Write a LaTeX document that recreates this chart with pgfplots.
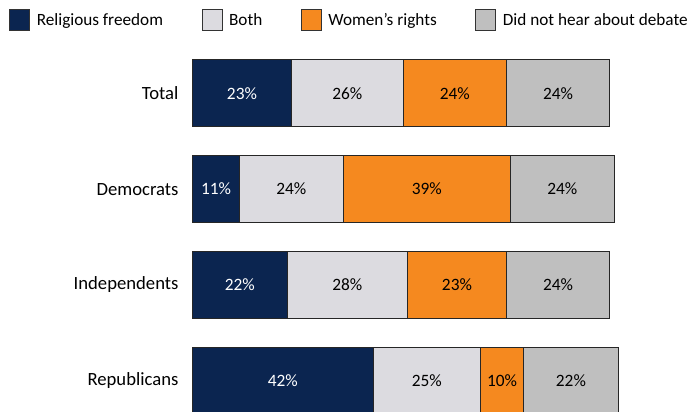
\documentclass[border=0pt]{standalone}
\usepackage{fontspec}
\setmainfont{Carlito}
\usepackage{pgfplots}
\pgfplotsset{compat=1.18}
\definecolor{cNavy}{HTML}{0B2550}
\definecolor{cLight}{HTML}{DCDBE0}
\definecolor{cOrange}{HTML}{F5891F}
\definecolor{cGray}{HTML}{BFBFBF}
\begin{document}
\begin{tikzpicture}
\begin{axis}[
  at={(144.375pt,-34.05pt)}, anchor=north west,
  scale only axis,
  width=322.5pt, height=287.4pt,
  xbar stacked,
  bar width=50.25pt,
  xmin=0, xmax=100,
  ymin=-0.5, ymax=3.5,
  y dir=reverse,
  ytick={0,1,2,3},
  yticklabels={Total,Democrats,Independents,Republicans},
  yticklabel style={font=\fontsize{14}{16}\selectfont, xshift=-7pt},
  ytick style={draw=none},
  xtick=\empty,
  axis line style={draw=none},
  clip=false,
  /pgf/number format/assume math mode=true,
  point meta=explicit,
  nodes near coords={\pgfmathprintnumber{\pgfplotspointmeta}\%},
  every node near coord/.append style={anchor=center, font=\fontsize{13}{15}\selectfont},
  legend columns=4,
  legend style={at={(axis description cs:0,1)}, anchor=north west, xshift=-137.6pt, yshift=27.3pt, draw=none, fill=none,
    font=\fontsize{12.9}{15}\selectfont, inner sep=0pt,
    /tikz/every even column/.append style={column sep=27pt},
    /tikz/every odd column/.append style={column sep=3pt}},
  legend cell align=left,
  legend image code/.code={\draw[#1,draw=black!80,line width=0.6pt] (0pt,-7.9pt) rectangle (15pt,7.9pt);},
]
\addplot[fill=cNavy, draw=black!85, line width=0.6pt, nodes near coords style={text=white}] coordinates {(23,0) [23] (11,1) [11] (22,2) [22] (42,3) [42]};
\addplot[fill=cLight, draw=black!85, line width=0.6pt, nodes near coords style={text=black}] coordinates {(26,0) [26] (24,1) [24] (28,2) [28] (25,3) [25]};
\addplot[fill=cOrange, draw=black!85, line width=0.6pt, nodes near coords style={text=black}] coordinates {(24,0) [24] (39,1) [39] (23,2) [23] (10,3) [10]};
\addplot[fill=cGray, draw=black!85, line width=0.6pt, nodes near coords style={text=black}] coordinates {(24,0) [24] (24,1) [24] (24,2) [24] (22,3) [22]};
\legend{Religious freedom, Both, Women’s rights, Did not hear about debate}
\end{axis}
\pgfresetboundingbox
\path (0pt,0pt) rectangle (518.25pt,-308.25pt);
\end{tikzpicture}
\end{document}
